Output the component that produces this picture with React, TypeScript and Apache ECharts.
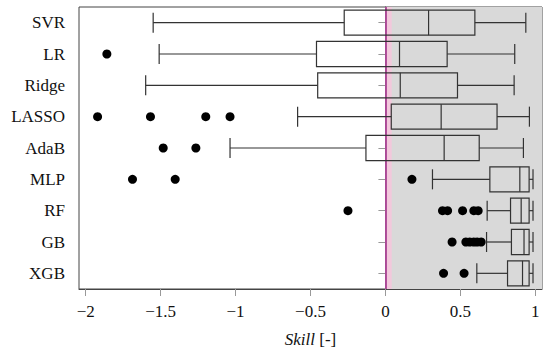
import React, { useEffect, useRef } from "react";
import * as echarts from "echarts";

const categories = ["SVR", "LR", "Ridge", "LASSO", "AdaB", "MLP", "RF", "GB", "XGB"];
const whiskerLow = [-1.55, -1.51, -1.6, -0.586, -1.037, 0.314, 0.679, 0.675, 0.61];
const q1 = [-0.275, -0.46, -0.452, 0.039, -0.13, 0.697, 0.835, 0.841, 0.815];
const median = [0.288, 0.094, 0.099, 0.372, 0.392, 0.897, 0.906, 0.925, 0.915];
const q3 = [0.597, 0.412, 0.481, 0.745, 0.626, 0.959, 0.959, 0.959, 0.959];
const whiskerHigh = [0.937, 0.863, 0.859, 0.961, 0.921, 0.985, 0.985, 0.985, 0.985];
const outliers: number[][] = [
  [],
  [-1.859],
  [],
  [-1.921, -1.568, -1.199, -1.037],
  [-1.483, -1.265],
  [-1.688, -1.403, 0.177],
  [-0.25, 0.381, 0.415, 0.515, 0.59, 0.619],
  [0.445, 0.537, 0.563, 0.59, 0.612, 0.639],
  [0.388, 0.525],
];
const tickValues = [-2, -1.5, -1, -0.5, 0, 0.5, 1];

const FONT = "Liberation Serif";
const LINE = "#333333";

export default function App() {
  const ref = useRef<HTMLDivElement>(null);
  useEffect(() => {
    if (!ref.current) return;
    const chart = echarts.init(ref.current, undefined, { renderer: "svg" });
    const boxData = categories.map((_, i) => [whiskerLow[i], q1[i], median[i], q3[i], whiskerHigh[i], i]);
    const outlierData: number[][] = [];
    outliers.forEach((arr, i) => arr.forEach((v) => outlierData.push([v, i])));
    const fmt = (v: number) => (v < 0 ? "\u2212" + Math.abs(v) : String(v));
    chart.setOption({
      animation: false,
      textStyle: { fontFamily: FONT },
      grid: {
        left: 79,
        right: 8,
        top: 7,
        bottom: 64,
        show: true,
        borderColor: "#444",
        borderWidth: 1,
        backgroundColor: "transparent",
      },
      xAxis: {
        type: "value",
        min: -2.045,
        max: 1.045,
        splitLine: { show: false },
        axisLine: { show: true, lineStyle: { color: "#444", width: 1 } },
        axisTick: { show: true, length: 7, lineStyle: { color: "#999" }, customValues: tickValues },
        axisLabel: {
          customValues: tickValues,
          formatter: fmt,
          fontFamily: FONT,
          fontSize: 17,
          color: "#111",
          margin: 14,
        },
        name: "{i|Skill} {n|[-]}",
        nameLocation: "middle",
        nameGap: 42,
        nameTextStyle: {
          fontFamily: FONT,
          fontSize: 17,
          rich: {
            i: { fontFamily: FONT, fontSize: 17, fontStyle: "italic", color: "#111" },
            n: { fontFamily: FONT, fontSize: 17, color: "#111" },
          },
        },
      },
      yAxis: {
        type: "category",
        data: categories,
        inverse: true,
        axisLine: { show: true, lineStyle: { color: "#444", width: 1 } },
        axisTick: { show: true, alignWithLabel: true, length: 7, lineStyle: { color: "#999" } },
        axisLabel: { fontFamily: FONT, fontSize: 17, color: "#111", margin: 14 },
        splitLine: { show: false },
      },
      series: [
        {
          type: "line",
          data: [],
          z: 1,
          silent: true,
          markArea: {
            silent: true,
            data: [
              [{ xAxis: 0, itemStyle: { color: "#d9d9d9" } }, { xAxis: 1.045 }],
              [{ xAxis: 0, itemStyle: { color: "#f2c8dc" } }, { xAxis: 0.042 }],
            ],
          },
          markLine: {
            silent: true,
            symbol: "none",
            label: { show: false },
            lineStyle: { color: "#a0308a", width: 1.6, type: "solid" },
            data: [{ xAxis: 0 }],
          },
        },
        {
          type: "custom",
          z: 5,
          data: boxData,
          encode: { x: [0, 1, 2, 3, 4], y: 5 },
          renderItem: (params: any, api: any) => {
            const cat = api.value(5);
            const band = api.size([0, 1])[1];
            const bh = band * 0.8;
            const ch = band * 0.64;
            const pLow = api.coord([api.value(0), cat]);
            const pQ1 = api.coord([api.value(1), cat]);
            const pMed = api.coord([api.value(2), cat]);
            const pQ3 = api.coord([api.value(3), cat]);
            const pHigh = api.coord([api.value(4), cat]);
            const y = pLow[1];
            const ls = { stroke: LINE, lineWidth: 1.2, fill: null };
            return {
              type: "group",
              children: [
                { type: "line", shape: { x1: pLow[0], y1: y, x2: pQ1[0], y2: y }, style: ls },
                { type: "line", shape: { x1: pQ3[0], y1: y, x2: pHigh[0], y2: y }, style: ls },
                { type: "line", shape: { x1: pLow[0], y1: y - ch / 2, x2: pLow[0], y2: y + ch / 2 }, style: ls },
                { type: "line", shape: { x1: pHigh[0], y1: y - ch / 2, x2: pHigh[0], y2: y + ch / 2 }, style: ls },
                {
                  type: "rect",
                  shape: { x: pQ1[0], y: y - bh / 2, width: pQ3[0] - pQ1[0], height: bh },
                  style: { stroke: LINE, lineWidth: 1.2, fill: "none" },
                },
                { type: "line", shape: { x1: pMed[0], y1: y - bh / 2, x2: pMed[0], y2: y + bh / 2 }, style: ls },
              ],
            };
          },
        },
        {
          type: "scatter",
          z: 6,
          data: outlierData,
          symbol: "circle",
          symbolSize: 9,
          itemStyle: { color: "#000", opacity: 1 },
        },
      ],
    });
    return () => chart.dispose();
  }, []);
  return (
    <div
      ref={ref}
      style={{ position: "fixed", left: 0, top: 0, width: 550, height: 353, background: "#fff" }}
    />
  );
}
